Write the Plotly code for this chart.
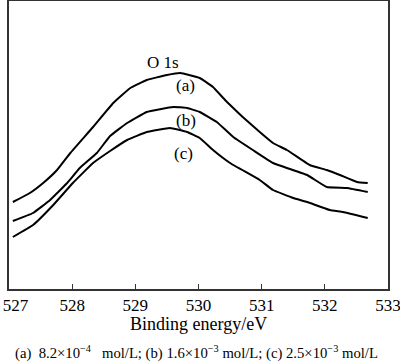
import plotly.graph_objects as go

# Binding energy (eV) and intensity (arbitrary units)
x_a = [527.06, 527.33, 527.54, 527.76, 527.97, 528.33, 528.65, 528.92, 529.18, 529.50, 529.71, 530.02,
       530.23, 530.42, 530.55, 530.70, 530.97, 531.18, 531.40, 531.76, 532.03, 532.24, 532.51, 532.68]
y_a = [87, 96, 106, 119, 136, 162, 186, 201, 209, 214, 216, 211,
       202, 189, 181, 172, 157, 146, 139, 124, 119, 114, 107, 106]

x_b = [527.06, 527.38, 527.65, 527.92, 528.12, 528.39, 528.60, 528.87, 529.18, 529.60, 529.82, 530.02,
       530.29, 530.55, 530.86, 531.18, 531.72, 532.03, 532.35, 532.68]
y_b = [68, 76, 89, 106, 121, 136, 153, 166, 177, 182, 181, 177,
       167, 152, 139, 126, 114, 102, 101, 97]

x_c = [527.06, 527.38, 527.70, 528.01, 528.33, 528.60, 528.87, 529.18, 529.55, 529.82, 530.02, 530.23,
       530.50, 530.97, 531.18, 531.50, 531.72, 532.08, 532.29, 532.68]
y_c = [52, 64, 84, 106, 126, 138, 149, 157, 161, 157, 151, 139,
       126, 109, 99, 91, 87, 79, 77, 71]

x_ticks = [527, 528, 529, 530, 531, 532, 533]
curve_labels = ["(a)", "(b)", "(c)"]

serif = "Liberation Serif, Times New Roman, serif"
nb = "\u00a0"
tick_text = [(nb * 3 + str(t)) if t == x_ticks[0] else str(t) for t in x_ticks]

fig = go.Figure()
for xs, ys in [(x_a, y_a), (x_b, y_b), (x_c, y_c)]:
    fig.add_trace(go.Scatter(x=xs, y=ys, mode="lines",
                             line=dict(color="black", width=2, shape="spline", smoothing=0.3),
                             showlegend=False, hoverinfo="skip"))

fig.add_annotation(x=529.44, y=227, text="O 1s", showarrow=False, font=dict(family=serif, size=17, color="black"))
for lbl, xx, yy in zip(curve_labels, [529.80, 529.80, 529.77], [204, 169, 136]):
    fig.add_annotation(x=xx, y=yy, text=lbl, showarrow=False, font=dict(family=serif, size=17, color="black"))

fig.add_annotation(xref="paper", yref="paper", x=0.5, y=-0.122, text="Binding energy/eV", showarrow=False,
                   font=dict(family=serif, size=18, color="black"), xanchor="center", yanchor="middle")
caption = ("(a)" + nb * 2 + "8.2×10<sup>−4</sup>" + nb * 3 + "mol/L; (b) 1.6×10<sup>−3</sup> mol/L; "
           "(c) 2.5×10<sup>−3</sup> mol/L")
fig.add_annotation(xref="paper", yref="paper", x=0.01, y=-0.219, xanchor="left", yanchor="middle",
                   text=caption, showarrow=False, font=dict(family=serif, size=14.7, color="black"))

fig.update_layout(
    width=400, height=363,
    margin=dict(l=9, r=12, t=1, b=74),
    plot_bgcolor="white", paper_bgcolor="white",
    xaxis=dict(range=[526.999, 533.001], tickvals=x_ticks, ticktext=tick_text,
               ticks="inside", ticklen=5, tickcolor="#333", showline=True, linecolor="#333", linewidth=1.5,
               mirror=True, showgrid=False, zeroline=False, automargin=False,
               ticklabeloverflow="allow", ticklabelstandoff=0,
               tickfont=dict(family=serif, size=17, color="black")),
    yaxis=dict(range=[0, 288], showticklabels=False, ticks="", showline=True, linecolor="#333", linewidth=1.5,
               mirror=True, showgrid=False, zeroline=False, automargin=False),
)
fig.write_html("out.html", config={"displayModeBar": False},
               post_script="document.body.style.margin='0';")
